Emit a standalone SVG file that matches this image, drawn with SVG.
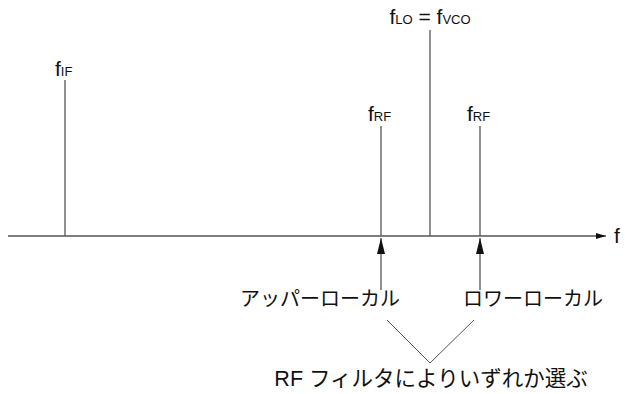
<svg xmlns="http://www.w3.org/2000/svg" width="625" height="394" viewBox="0 0 625 394">
<defs>
<marker id="ah" viewBox="0 0 10 10" refX="10" refY="5" markerWidth="10" markerHeight="10" markerUnits="userSpaceOnUse" orient="auto">
<path d="M0,2 L10,5 L0,8 Z" fill="#111"/>
</marker>
<marker id="ahu" viewBox="0 0 10 16" refX="5" refY="0" markerWidth="10" markerHeight="16" markerUnits="userSpaceOnUse" orient="0">
<path d="M5,0 L9,16 L1,16 Z" fill="#111"/>
</marker>
</defs>
<style>
.ln{stroke:#555;stroke-width:1.3;fill:none}
.t{font-family:"Liberation Sans","Noto Sans CJK JP",sans-serif;fill:#111}
.f{font-size:21px}
.s{font-size:13px}
.j{font-size:20px}
.k{font-size:21.5px}
</style>
<g id="connectors">
<line class="ln" x1="8" y1="236" x2="606" y2="236" marker-end="url(#ah)"/>
<line class="ln" x1="65" y1="80" x2="65" y2="236"/>
<line class="ln" x1="381" y1="126" x2="381" y2="236"/>
<line class="ln" x1="480" y1="126" x2="480" y2="236"/>
<line class="ln" x1="430" y1="30" x2="430" y2="236"/>
<line class="ln" x1="381" y1="290" x2="381" y2="238" marker-end="url(#ahu)"/>
<line class="ln" x1="480" y1="290" x2="480" y2="238" marker-end="url(#ahu)"/>
<polyline class="ln" points="387,320 430,363 474,320" style="stroke-width:1"/>
</g>
<g id="axis-label"><text class="t f" x="614" y="243">f</text></g>
<g id="fIF"><text class="t" x="55" y="76"><tspan class="f">f</tspan><tspan class="s">IF</tspan></text></g>
<g id="fRF1"><text class="t" x="368" y="121"><tspan class="f">f</tspan><tspan class="s">RF</tspan></text></g>
<g id="fRF2"><text class="t" x="467" y="121"><tspan class="f">f</tspan><tspan class="s">RF</tspan></text></g>
<g id="fLO"><text class="t" x="430" y="24" text-anchor="middle"><tspan class="f">f</tspan><tspan class="s">LO</tspan><tspan class="f"> = f</tspan><tspan class="s">VCO</tspan></text></g>
<g id="upper"><text class="t j" x="320" y="306" text-anchor="middle">アッパーローカル</text></g>
<g id="lower"><text class="t j" x="533" y="306" text-anchor="middle">ロワーローカル</text></g>
<g id="note"><text class="t k" x="431" y="386" text-anchor="middle">RF フィルタによりいずれか選ぶ</text></g>
</svg>
